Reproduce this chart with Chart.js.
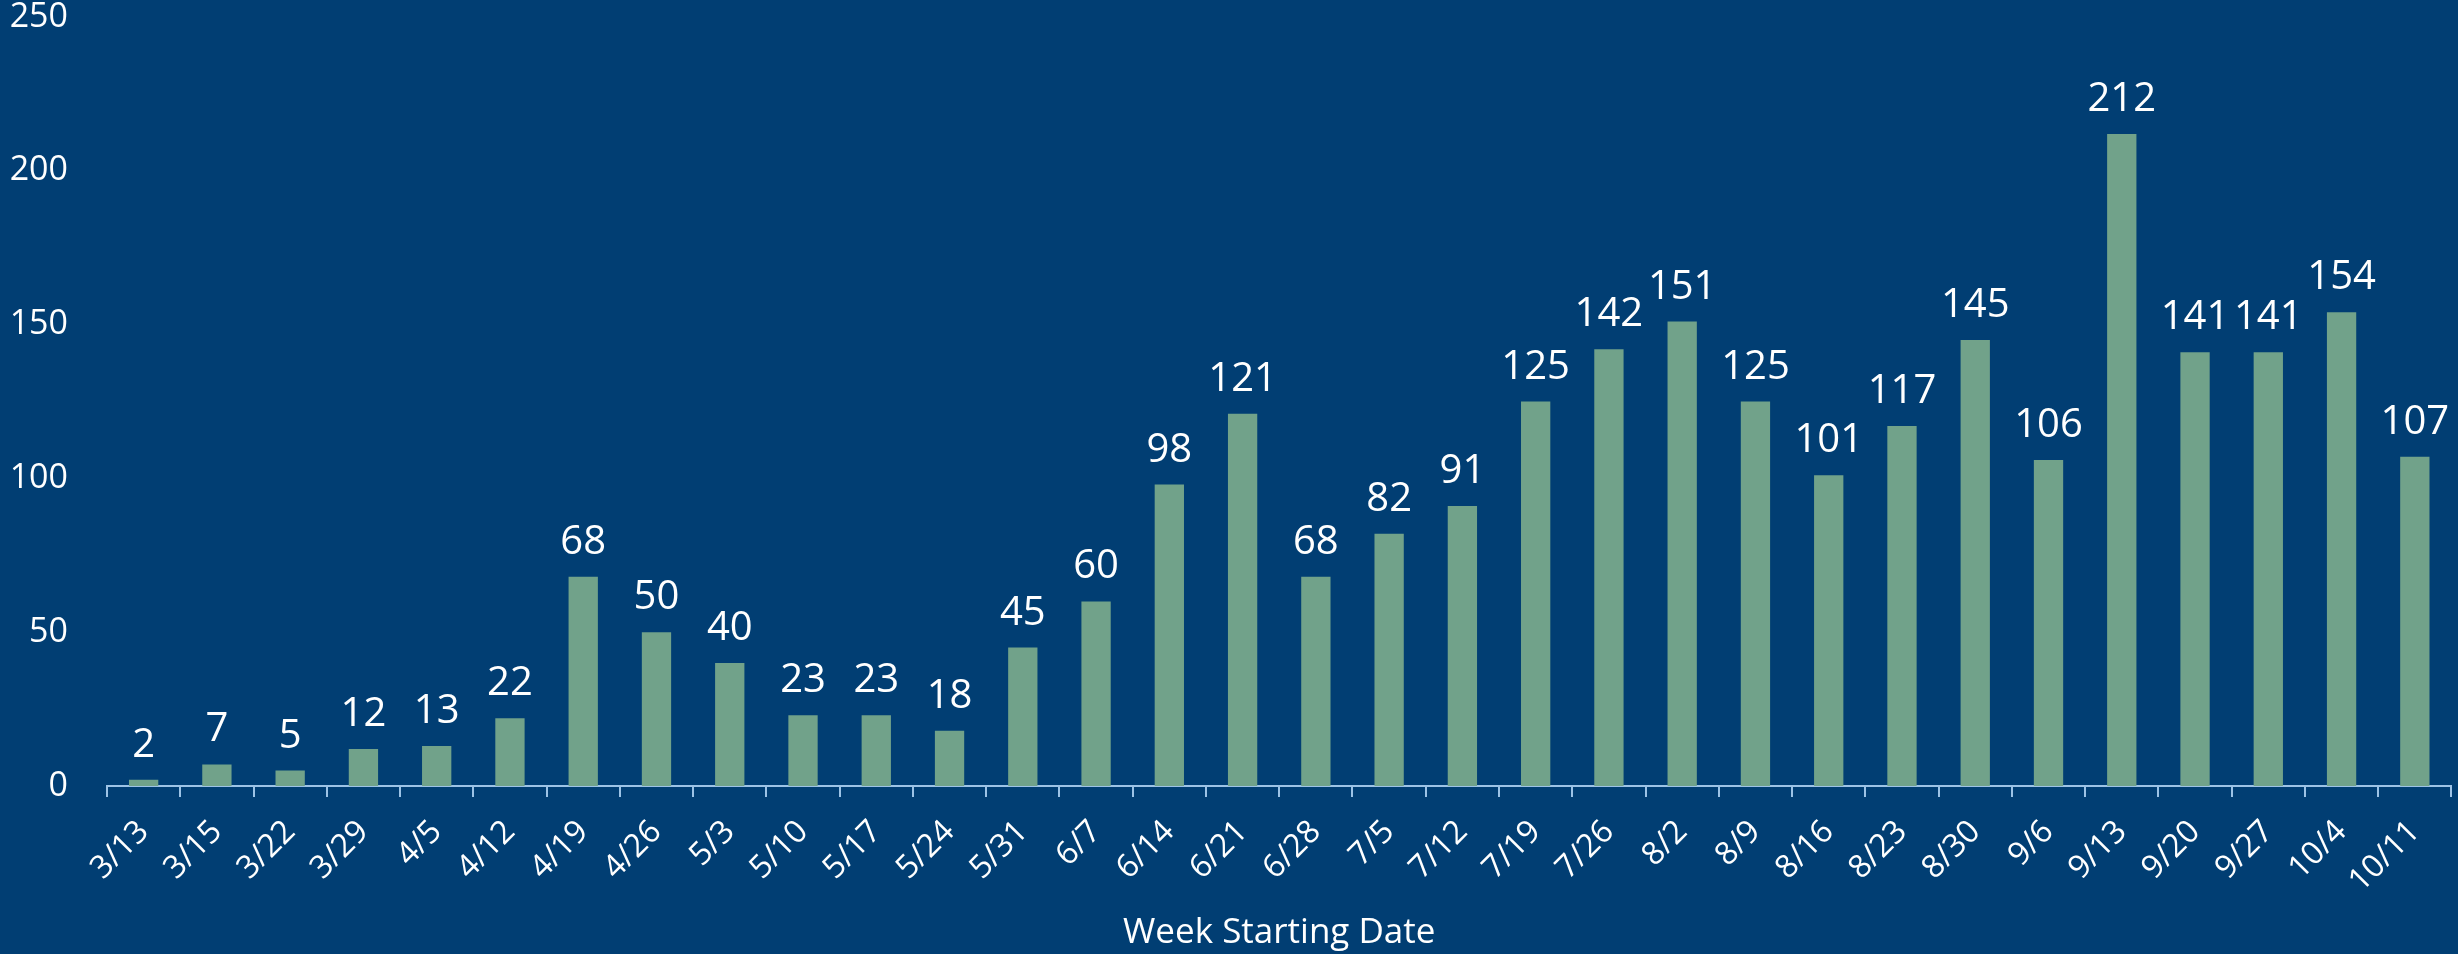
<!DOCTYPE html>
<html>
<head>
<meta charset="utf-8">
<script src="https://cdn.jsdelivr.net/npm/chart.js@4/dist/chart.umd.min.js"></script>
<style>
  html, body { margin: 0; padding: 0; background: #013E73; overflow: hidden; }
  #wrap { width: 2458px; height: 954px; }
</style>
</head>
<body>
<div id="wrap"><canvas id="c" width="2458" height="954"></canvas></div>
<script>
const categories = ["3/13","3/15","3/22","3/29","4/5","4/12","4/19","4/26","5/3","5/10","5/17","5/24","5/31","6/7","6/14","6/21","6/28","7/5","7/12","7/19","7/26","8/2","8/9","8/16","8/23","8/30","9/6","9/13","9/20","9/27","10/4","10/11"];
const values = [2,7,5,12,13,22,68,50,40,23,23,18,45,60,98,121,68,82,91,125,142,151,125,101,117,145,106,212,141,141,154,107];
const yTicks = [0,50,100,150,200,250];
const xTitle = "Week Starting Date";

const FONT = "'Open Sans', 'Noto Sans', sans-serif";
const BG = "#013E73";
const BAR = "#71A28A";
const AXIS = "#9DC3E6";

const bgPlugin = {
  id: 'bg',
  beforeDraw(chart) {
    const ctx = chart.ctx;
    ctx.save();
    ctx.fillStyle = BG;
    ctx.fillRect(0, 0, chart.width, chart.height);
    ctx.restore();
  }
};

const labelPlugin = {
  id: 'valueLabels',
  afterDatasetsDraw(chart) {
    const ctx = chart.ctx;
    const meta = chart.getDatasetMeta(0);
    ctx.save();
    ctx.fillStyle = '#FFFFFF';
    ctx.font = "40px " + FONT;
    ctx.textAlign = 'center';
    ctx.textBaseline = 'alphabetic';
    meta.data.forEach((el, i) => {
      ctx.fillText(String(values[i]), el.x, el.y - 23);
    });
    ctx.restore();
  }
};

new Chart(document.getElementById('c'), {
  type: 'bar',
  data: {
    labels: categories,
    datasets: [{
      data: values,
      backgroundColor: BAR,
      borderWidth: 0,
      barPercentage: 0.8,
      categoryPercentage: 0.5
    }]
  },
  options: {
    responsive: false,
    animation: false,
    devicePixelRatio: 1,
    layout: { padding: { left: 0, right: 1, top: 0, bottom: 0 } },
    plugins: {
      legend: { display: false },
      tooltip: { enabled: false },
      title: { display: false }
    },
    scales: {
      x: {
        grid: {
          display: true,
          drawOnChartArea: false,
          drawTicks: true,
          tickLength: 11,
          color: AXIS,
          lineWidth: 2,
          offset: true
        },
        border: { display: true, color: AXIS, width: 2 },
        ticks: {
          color: '#FFFFFF',
          font: { family: FONT, size: 32 },
          minRotation: 45,
          maxRotation: 45,
          autoSkip: false,
          padding: 16
        },
        title: {
          display: true,
          text: xTitle,
          color: '#FFFFFF',
          font: { family: FONT, size: 35 },
          padding: { top: 0, bottom: 0 }
        },
        afterFit(scale) { scale.height = 168; }
      },
      y: {
        min: 0,
        max: 250,
        afterBuildTicks(scale) { scale.ticks = yTicks.map(v => ({ value: v })); },
        grid: { display: false, drawTicks: false },
        border: { display: false },
        ticks: {
          color: '#FFFFFF',
          font: { family: FONT, size: 34, lineHeight: 1 },
          padding: 39
        },
        afterFit(scale) {
          scale.width = 107;
          scale.paddingTop = 17;
          scale.paddingBottom = 17;
        }
      }
    }
  },
  plugins: [bgPlugin, labelPlugin]
});
</script>
</body>
</html>
